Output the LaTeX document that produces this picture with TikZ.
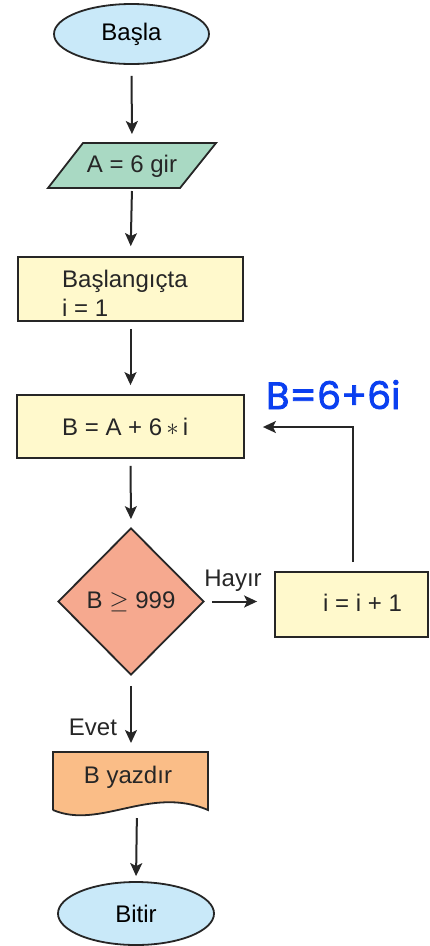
\documentclass[tikz,border=0pt]{standalone}
\usepackage{fontspec}
\setmainfont{Liberation Sans}
\newfontfamily\handfont{Poppins}[FakeBold=2]
\usetikzlibrary{shapes.geometric,arrows.meta}
\definecolor{termfill}{HTML}{C9E9F9}
\definecolor{iofill}{HTML}{A9D9C3}
\definecolor{procfill}{HTML}{FFF9CC}
\definecolor{decfill}{HTML}{F6A98F}
\definecolor{docfill}{HTML}{FABD87}
\definecolor{inkblue}{HTML}{0A3FF0}
\begin{document}
\begin{tikzpicture}[x=1pt,y=-1pt,
  every node/.style={font=\fontsize{24}{29}\selectfont, inner sep=0pt},
  outline/.style={draw=black!85, line width=1.8pt},
  term/.style={outline, ellipse, fill=termfill},
  procbox/.style={outline, rectangle, fill=procfill},
  decision/.style={outline, diamond, fill=decfill},
  flow/.style={draw=black!85, line width=2pt, -{Stealth[length=13pt,width=12pt,inset=3pt]}},
  label/.style={text=black!85}
]
\useasboundingbox (0,0) rectangle (430,946);

% terminators
\node[term, minimum width=155pt, minimum height=60pt] (start) at (131.5,34) {Başla};
\node[term, minimum width=156pt, minimum height=63pt] (stop) at (136,913.5) {Bitir};

% input parallelogram
\coordinate (pa) at (83,143);
\coordinate (pb) at (216,143);
\coordinate (pc) at (180,188);
\coordinate (pd) at (48,188);
\draw[outline, fill=iofill, line join=miter] (pa) -- (pb) -- (pc) -- (pd) -- cycle;
\node[label] (input) at (132,166) {A = 6 gir};
\coordinate (intop) at (132,143);
\coordinate (inbot) at (132,188);

% process boxes
\node[procbox, minimum width=225pt, minimum height=64pt] (init) at (130.5,289) {};
\node[label, anchor=west, align=left] (inittxt) at (62,293) {Başlangıçta\\i = 1};
\node[procbox, minimum width=227pt, minimum height=63pt] (calc) at (130.5,426.5) {};
\node[label, anchor=west] (calctxt) at (62,427) {B = A + 6$\,\ast\,$i};
\node[procbox, minimum width=153pt, minimum height=65pt] (incr) at (351.5,604.5) {};
\node[label, anchor=west] (incrtxt) at (323,603) {i = i + 1};

% decision
\node[decision, minimum width=146pt, minimum height=147pt] (test) at (131,601.5) {};
\node[label] (testtxt) at (131,602) {B $\geq$ 999};

% output document
\coordinate (da) at (53,752);
\coordinate (db) at (208,752);
\coordinate (dc) at (208,810);
\coordinate (dd) at (53,810);
\draw[outline, fill=docfill, line join=miter] (dd) -- (da) -- (db) -- (dc)
  .. controls (150,785) and (100,830) .. (dd);
\node[label] (outtxt) at (128,777) {B yazdır};
\coordinate (dtop) at (131,752);
\coordinate (dbot) at (137,808);

% connectors
\draw[flow, shorten <=11pt, shorten >=9pt] (start.south) -- (intop);
\draw[flow, shorten <=3pt, shorten >=10pt] (inbot) -- (init.north);
\draw[flow, shorten <=7pt, shorten >=9pt] (init.south) -- (calc.north);
\draw[flow, shorten <=7pt, shorten >=8pt] (calc.south) -- (test.north);
\draw[flow, shorten <=7pt, shorten >=17pt] (test.east) -- (test.east -| incr.west);
\coordinate (loopcorner) at (353,427);
\draw[flow, shorten >=18pt] ([yshift=9pt]incr.north -| loopcorner) -- (loopcorner) -- (calc.east |- loopcorner);
\draw[flow, shorten <=10pt, shorten >=9pt] (test.south) -- (dtop);
\draw[flow, shorten <=10pt, shorten >=5pt] (dbot) -- (stop.north);

% branch labels
\node[label, anchor=base] (no) at (233,586) {Hayır};
\node[label, anchor=base] (yes) at (93,735) {Evet};

% handwritten note
\node[text=inkblue, font=\handfont\fontsize{38}{40}\selectfont, anchor=base west] (note) at (266,409) {B=6+6i};
\end{tikzpicture}
\end{document}
